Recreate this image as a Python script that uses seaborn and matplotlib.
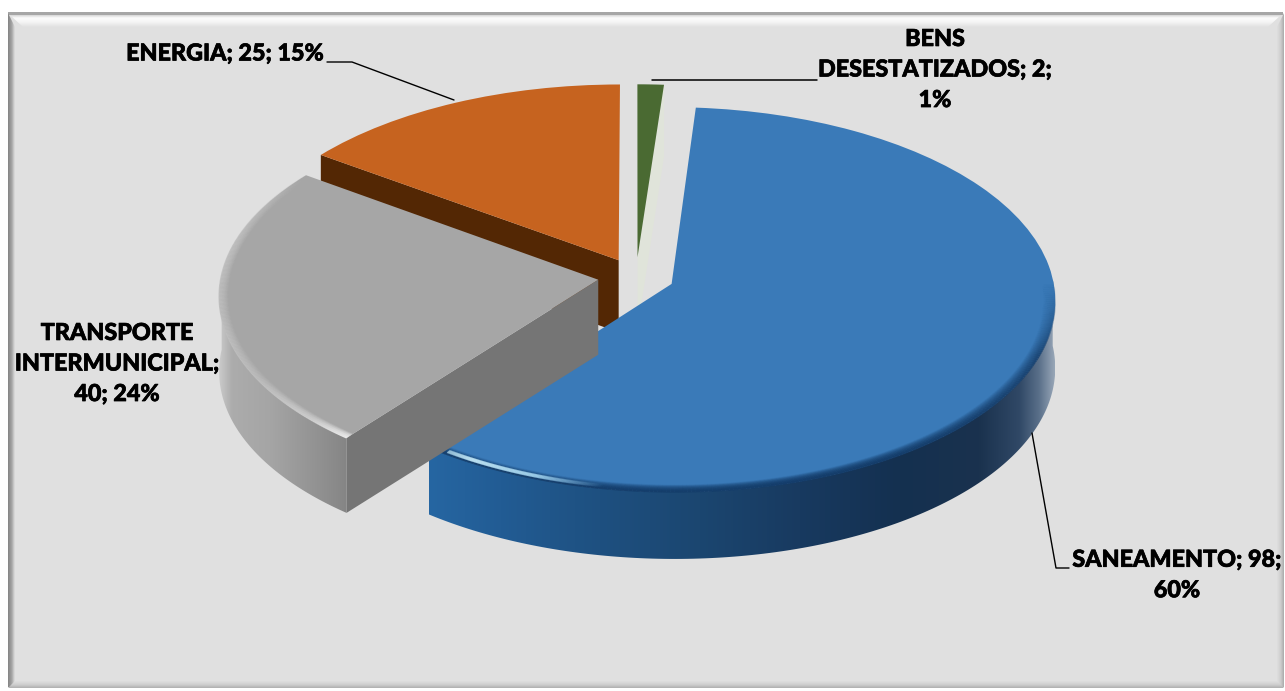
import numpy as np
import matplotlib
matplotlib.use("Agg")
import matplotlib.pyplot as plt
import matplotlib.patheffects as pe
import seaborn as sns
from matplotlib.collections import LineCollection
from matplotlib.patches import Polygon
from matplotlib.transforms import Transform

# data
names = ["BENS\nDESESTATIZADOS", "SANEAMENTO", "TRANSPORTE\nINTERMUNICIPAL", "ENERGIA"]
values = [2, 98, 40, 25]
percents = [1, 60, 24, 15]
label_text = [
    "BENS\nDESESTATIZADOS; 2;\n1%",
    "SANEAMENTO; 98;\n60%",
    "TRANSPORTE\nINTERMUNICIPAL;\n40; 24%",
    "ENERGIA; 25; 15%",
]
explode = [0.105, 0.1, 0.1, 0.1]

sns.set_theme(style="white")
plt.rcParams["font.family"] = ["Lato", "DejaVu Sans"]

top_colors = sns.color_palette(["#4A6A32", "#3A7AB8", "#A6A6A6", "#C6631F"])
BG = "#E0E0E0"


class Tilt(Transform):
    # flat pie plane to picture pixels, far side a bit smaller
    input_dims = 2
    output_dims = 2

    def __init__(self, drop=0):
        super().__init__()
        self.drop = drop

    def transform_non_affine(self, xy):
        xy = np.asarray(xy, dtype=float)
        w = 1 + 0.081 * xy[:, 1]
        return np.column_stack([636 + 381 * xy[:, 0] / w, 277 - 190 * xy[:, 1] / w + self.drop])


fig, ax = plt.subplots(figsize=(12.85, 6.91), dpi=100)
fig.subplots_adjust(0, 0, 1, 1)
fig.patch.set_facecolor("white")

wedges, _ = ax.pie(values, startangle=90, counterclock=False, explode=explode,
                   colors=top_colors, radius=1)
ax.set_aspect("auto")

tilt = Tilt()
for w in wedges:
    w.set_transform(tilt + ax.transData)
    w.set_linewidth(0)
    w.set_clip_on(False)


def arc(w, t0, t1, r=1.0, n=160):
    t = np.radians(np.linspace(t0, t1, n))
    return np.column_stack([w.center[0] + r * w.r * np.cos(t), w.center[1] + r * w.r * np.sin(t)])


def paint(stops, clip, z, vertical=False):
    pos = [s[0] for s in stops]
    cols = np.array([s[1] for s in stops], dtype=float) / 255
    p = np.linspace(pos[0], pos[-1], 400)
    img = np.column_stack([np.interp(p, pos, cols[:, i]) for i in range(3)])
    if vertical:
        im = ax.imshow(img[:, None, :], extent=(0, 1285, pos[-1], pos[0]), aspect="auto",
                       zorder=z, interpolation="bilinear")
    else:
        im = ax.imshow(img[None, :, :], extent=(pos[0], pos[-1], 691, 0), aspect="auto",
                       zorder=z, interpolation="bilinear")
    patch = Polygon(clip, closed=True, transform=ax.transData)
    im.set_clip_path(patch)


def wall(w, stops, z, thick):
    t = np.linspace(w.theta1, w.theta2, 400)
    t = t[np.sin(np.radians(t)) <= 0.03]
    pts = arc(w, t[0], t[-1])
    poly = np.vstack([tilt.transform(pts), Tilt(thick).transform(pts)[::-1]])
    paint(stops, poly, z)


def cut_face(w, theta, color, z, thick):
    edge = np.vstack([[w.center], arc(w, theta, theta, n=1)])
    a = tilt.transform(edge)
    b = Tilt(thick).transform(edge)
    ax.fill([a[0, 0], a[1, 0], b[1, 0], b[0, 0]], [a[0, 1], a[1, 1], b[1, 1], b[0, 1]],
            color=color, lw=0, zorder=z)


def rim(w, stops, band, z, layers=14, ramp=True):
    th = np.linspace(stops[0][0], stops[-1][0], 220)
    rgba = np.column_stack([np.interp(th, [s[0] for s in stops], [s[1][i] for s in stops]) for i in range(4)])
    rgba[:, :3] /= 255
    for f in np.linspace(0, 1, layers):
        r = band[0] + (band[1] - band[0]) * f
        pts = tilt.transform(arc(w, th[0], th[-1], r=r, n=len(th)))
        segs = np.stack([pts[:-1], pts[1:]], axis=1)
        col = rgba[:-1].copy()
        if ramp:
            col[:, 3] *= f
        ax.add_collection(LineCollection(segs, colors=col, linewidths=1.0, zorder=z, capstyle="butt"))


green, blue, grey, orange = wedges
grey.set_radius(0.99)
orange.set_radius(1.015)

# back slices first, grey sits over blue
cut_face(green, green.theta1, "#E0E4DA", 2, 72)
green.set_zorder(3)
cut_face(orange, orange.theta2, "#532704", 4, 72)
orange.set_zorder(5)
wall(blue, [(429, (38, 102, 162)), (500, (34, 92, 148)), (600, (30, 80, 128)), (700, (27, 70, 112)),
            (800, (24, 58, 96)), (900, (20, 48, 80)), (980, (26, 50, 78)), (1020, (48, 72, 102)),
            (1040, (90, 112, 138)), (1055, (150, 165, 182))], 6, 67)
blue.set_zorder(7)
rim(blue, [(-128, (20, 62, 108, 0.9)), (-60, (20, 60, 105, 0.95)),
           (-22, (25, 65, 110, 0.9)), (0, (35, 85, 135, 0.0))], (0.968, 1.0), 7.5)
rim(blue, [(-124, (200, 240, 255, 0.6)), (-120, (205, 242, 255, 1)), (-110, (175, 225, 250, 0.85)),
           (-100, (110, 170, 220, 0))], (0.982, 0.992), 7.6, layers=4, ramp=False)
wall(grey, [(218, (205, 205, 205)), (232, (172, 172, 172)), (270, (165, 165, 165)), (320, (145, 145, 145)),
            (358, (128, 128, 128))], 8, 75)
cut_face(grey, grey.theta2, "#757575", 9, 75)
grey.set_zorder(10)
rim(grey, [(-215.5, (190, 190, 190, 0)), (-190, (192, 192, 192, 0.9)), (-150, (190, 190, 190, 0.8)),
           (-136, (205, 205, 205, 0.9)), (-128.2, (235, 235, 235, 1))], (0.975, 1.0), 11)

ax.set_xlim(0, 1285)
ax.set_ylim(691, 0)
ax.set_axis_off()

# chart area with its bevelled edge
ax.fill([8, 1283, 1283, 8], [12, 12, 687, 687], color=BG, lw=0, zorder=0)
ax.fill([8, 1283, 1283, 8], [12, 12, 15, 15], color="#A6A6A6", lw=0, zorder=1)
paint([(14, (200, 200, 200)), (18, (252, 252, 252)), (22, (245, 245, 245)), (27, (224, 224, 224))],
      [(10, 15), (1281, 15), (1268, 27), (23, 27)], 1, vertical=True)
paint([(8, (130, 130, 130)), (12, (165, 165, 165)), (15, (224, 224, 224))],
      [(8, 13), (15, 27), (15, 687), (8, 687)], 1)
paint([(1277, (224, 224, 224)), (1281, (205, 205, 205)), (1284, (170, 170, 170))],
      [(1277, 27), (1284, 13), (1284, 687), (1277, 687)], 1)
paint([(681, (224, 224, 224)), (685, (205, 205, 205)), (688, (175, 175, 175))],
      [(15, 681), (1277, 681), (1284, 688), (8, 688)], 1, vertical=True)

# leader lines
ax.plot([327, 352, 454], [62, 62, 100], color="black", lw=1, zorder=12)
ax.plot([652, 817], [80, 80], color="black", lw=1.1, zorder=12)
ax.plot([1032, 1056, 1069], [433, 568, 568], color="black", lw=1, zorder=12)

label_pos = [(935, 70), (1177, 575.5), (117, 364), (225, 54)]
for txt, (x, y) in zip(label_text, label_pos):
    ax.text(x, y, txt, ha="center", va="center", fontsize=16.8, fontweight=900,
            color="black", linespacing=1.56, zorder=13,
            path_effects=[pe.withStroke(linewidth=0.5, foreground="black")])

fig.savefig("out.png", dpi=100, facecolor="white")
